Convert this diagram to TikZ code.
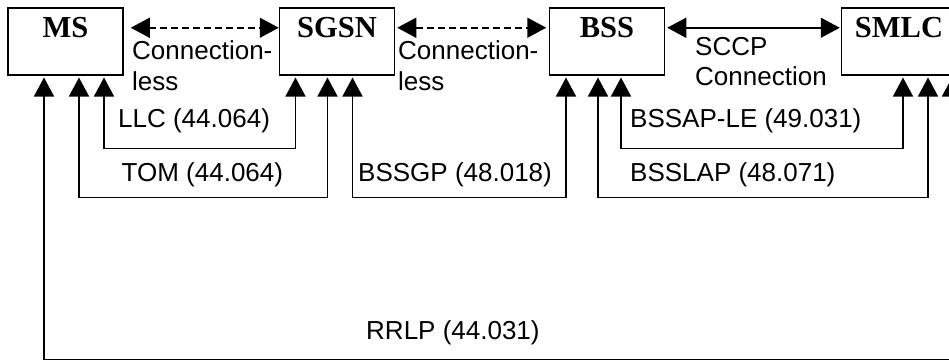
\documentclass[tikz,border=0pt]{standalone}
\usepackage{fontspec}
\setmainfont{Liberation Sans}
\newfontfamily\boxfont{Liberation Serif}
\usetikzlibrary{arrows.meta}
\usetikzlibrary{positioning}

\begin{document}
\begin{tikzpicture}[x=1pt,y=-1pt,
  entity/.style={draw,line width=1.5pt,inner sep=0pt,minimum width=115pt,text height=30pt,text depth=37pt,font=\boxfont\bfseries\fontsize{30.5}{36}\selectfont},
  lbl/.style={inner sep=0pt,font=\fontsize{26}{30.7}\selectfont},
  across/.style={line width=1.5pt,{Triangle[length=19pt,width=20pt]}-{Triangle[length=19pt,width=20pt]}},
  link/.style={across,shorten <=2pt,shorten >=2pt}]
  \useasboundingbox (0,0) rectangle (949,360);
  \clip (0,0) rectangle (949,360);
  %boxes
  \node[entity,anchor=north] (ms) at (65.5,7) {MS};
  \node[entity,right=155pt of ms] (sgsn) {SGSN};
  \node[entity,right=153.5pt of sgsn] (bss) {BSS};
  \node[entity,right=175.5pt of bss] (smlc) {SMLC};

  %top
  \draw[across,dashed,dash pattern=on 7pt off 4pt] ([xshift=7pt,yshift=13.5pt]ms.east) -- ([yshift=13.5pt]sgsn.west);
  \draw[across,dashed,dash pattern=on 7pt off 4pt] ([xshift=2pt,yshift=13.5pt]sgsn.east) -- ([xshift=-2.5pt,yshift=13.5pt]bss.west);
  \draw[across] ([xshift=2pt,yshift=13.5pt]bss.east) -- ([xshift=-1pt,yshift=13.5pt]smlc.west);
  \node[lbl,anchor=north west,align=left] (cl1) at (132,40.5) {Connection-\\less};
  \node[lbl,anchor=north west,align=left] (cl2) at (398,40.5) {Connection-\\less};
  \node[lbl,anchor=north west,align=left] (sccp) at (695,36.7) {SCCP\\Connection};

  %protocols
  \draw[link] ([xshift=38.5pt]ms.south) -- ++(0,73) -| ([xshift=-41.5pt]sgsn.south);
  \draw[link] ([xshift=13.5pt]ms.south) -- ++(0,122) -| ([xshift=-9.5pt]sgsn.south);
  \draw[link] ([xshift=15.5pt]sgsn.south) -- ++(0,122) -| ([xshift=-41pt]bss.south);
  \draw[link] ([xshift=14pt]bss.south) -- ++(0,73) -| ([xshift=4pt]smlc.south);
  \draw[link] ([xshift=-9pt]bss.south) -- ++(0,122) -| ([xshift=29pt]smlc.south);
  \draw[link] ([xshift=-21.5pt]ms.south) -- ++(0,284) -| ([xshift=53pt]smlc.south);
  \node[lbl,anchor=base west] (llc) at (118,127) {LLC (44.064)};
  \node[lbl,anchor=base west] (tom) at (121.5,181) {TOM (44.064)};
  \node[lbl,anchor=base west] (bssgp) at (358,181) {BSSGP (48.018)};
  \node[lbl,anchor=base west] (bssaple) at (630,127) {BSSAP-LE (49.031)};
  \node[lbl,anchor=base west] (bsslap) at (630,181) {BSSLAP (48.071)};
  \node[lbl,anchor=base west] (rrlp) at (366,339.3) {RRLP (44.031)};
\end{tikzpicture}
\end{document}
